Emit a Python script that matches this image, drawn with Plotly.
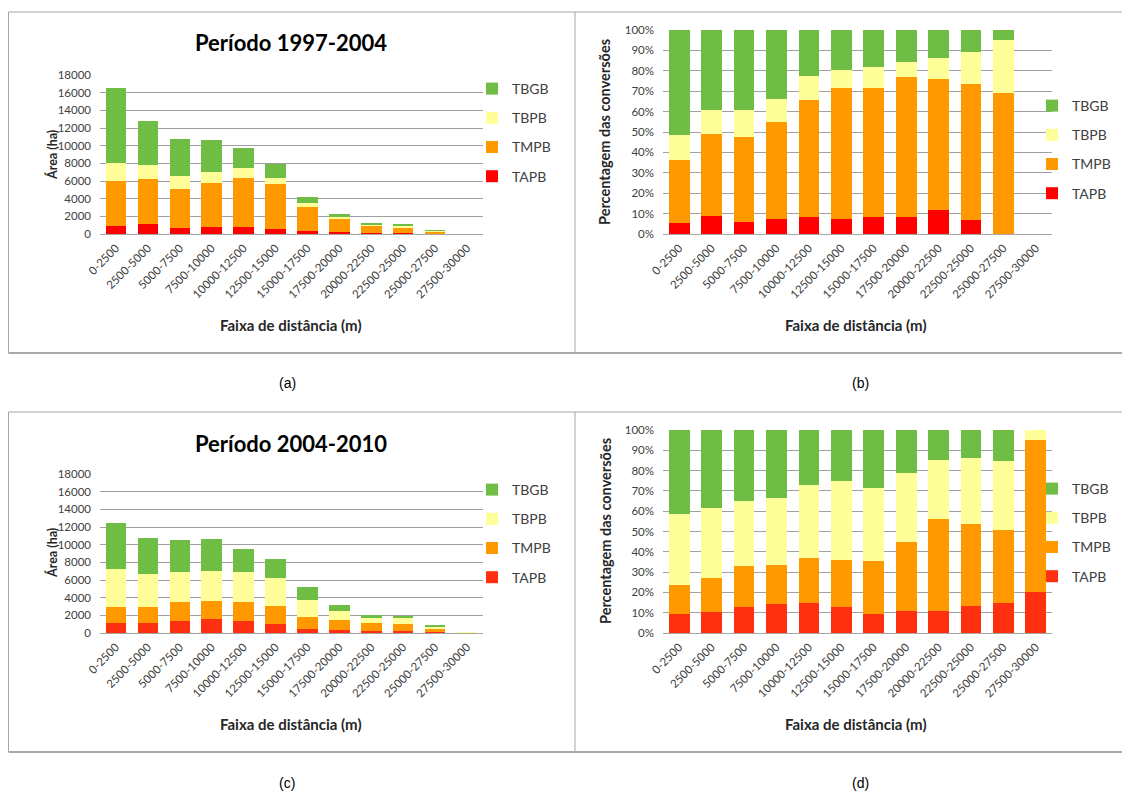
import numpy as np
import plotly.graph_objects as go

categories = ["0-2500", "2500-5000", "5000-7500", "7500-10000", "10000-12500", "12500-15000",
              "15000-17500", "17500-20000", "20000-22500", "22500-25000", "25000-27500", "27500-30000"]
series_names = ["TAPB", "TMPB", "TBPB", "TBGB"]

# Período 1997-2004 (ha)
p1_TAPB = [860, 1150, 655, 765, 795, 570, 345, 185, 140, 70, 0, 0]
p1_TMPB = [5150, 5120, 4440, 5065, 5555, 5090, 2675, 1550, 770, 678, 311, 0]
p1_TBPB = [2030, 1510, 1450, 1180, 1140, 685, 440, 175, 125, 162, 116, 0]
p1_TBGB = [8460, 4970, 4185, 3610, 2190, 1555, 760, 350, 165, 110, 23, 0]

# Período 2004-2010 (ha)
p2_TAPB = [1180, 1120, 1370, 1530, 1380, 1070, 490, 350, 220, 257, 126, 8]
p2_TMPB = [1735, 1790, 2100, 2040, 2110, 1940, 1350, 1090, 905, 788, 305, 30]
p2_TBPB = [4330, 3730, 3380, 3480, 3410, 3230, 1850, 1090, 575, 632, 289, 2]
p2_TBGB = [5155, 4100, 3660, 3580, 2590, 2120, 1490, 670, 300, 273, 130, 0]

y_ticks_area = [0, 2000, 4000, 6000, 8000, 10000, 12000, 14000, 16000, 18000]
y_ticks_pct = [0, 10, 20, 30, 40, 50, 60, 70, 80, 90, 100]
y_ticktext_pct = [f"{v}%" for v in y_ticks_pct]
y_ticktext_area = [str(v) for v in y_ticks_area]

colors_1 = {"TAPB": "#ff0000", "TMPB": "#ff9900", "TBPB": "#ffff99", "TBGB": "#70bd45"}
colors_2 = {"TAPB": "#ff3010", "TMPB": "#ff9900", "TBPB": "#ffff99", "TBGB": "#70bd45"}
legend_rank = {"TBGB": 1, "TBPB": 2, "TMPB": 3, "TAPB": 4}

# page body has an 8px margin: figure is sized to fit the window
OFF = 8
W, H = 1130 - OFF, 794 - OFF
def px(x): return (x - OFF) / W
def py(y): return 1 - (y - OFF) / H

FONT = "Lato"
TICK = dict(family=FONT, size=11.5, color="#404040")

def percent(series_list):
    arr = np.array(series_list, dtype=float)
    tot = arr.sum(axis=0)
    with np.errstate(invalid="ignore", divide="ignore"):
        pct = np.where(tot > 0, arr / tot * 100, np.nan)
    return pct

fig = go.Figure()

panels = [
    ("x", "y", "legend", [p1_TAPB, p1_TMPB, p1_TBPB, p1_TBGB], False, colors_1),
    ("x2", "y2", "legend2", [p1_TAPB, p1_TMPB, p1_TBPB, p1_TBGB], True, colors_1),
    ("x3", "y3", "legend3", [p2_TAPB, p2_TMPB, p2_TBPB, p2_TBGB], False, colors_2),
    ("x4", "y4", "legend4", [p2_TAPB, p2_TMPB, p2_TBPB, p2_TBGB], True, colors_2),
]

for xa, ya, lg, data, is_pct, cols in panels:
    vals = percent(data) if is_pct else np.array(data, dtype=float)
    for i, name in enumerate(series_names):
        fig.add_trace(go.Bar(
            x=categories, y=vals[i], name=name, xaxis=xa, yaxis=ya, legend=lg,
            legendgroup=lg + name, legendrank=legend_rank[name],
            marker=dict(color=cols[name], line=dict(width=0)),
        ))

xdom_l = [px(100), px(483)]
xdom_r = [px(663), px(1052)]

xcommon = dict(tickangle=-45, tickfont=TICK, showgrid=False, showline=True,
               linecolor="#a6a6a6", linewidth=1, ticks="", categoryorder="array",
               categoryarray=categories, automargin=False, ticklabelstandoff=2)
ycommon = dict(showgrid=True, gridcolor="#a0a0a0", gridwidth=1, zeroline=False,
               showline=False, tickfont=TICK, ticks="", automargin=False, tickmode="array",
               ticklabelstandoff=8)

fig.update_layout(
    width=W, height=H, margin=dict(l=0, r=0, t=0, b=0),
    paper_bgcolor="white", plot_bgcolor="white",
    barmode="stack", bargap=0.36,
    showlegend=True,
    xaxis=dict(domain=xdom_l, anchor="y", **xcommon),
    yaxis=dict(domain=[py(234), py(75)], anchor="x", range=[0, 18000],
               tickvals=y_ticks_area, ticktext=y_ticktext_area, **ycommon),
    xaxis2=dict(domain=xdom_r, anchor="y2", **xcommon),
    yaxis2=dict(domain=[py(234), py(30)], anchor="x2", range=[0, 100],
                tickvals=y_ticks_pct, ticktext=y_ticktext_pct, **ycommon),
    xaxis3=dict(domain=xdom_l, anchor="y3", **xcommon),
    yaxis3=dict(domain=[py(633), py(474)], anchor="x3", range=[0, 18000],
                tickvals=y_ticks_area, ticktext=y_ticktext_area, **ycommon),
    xaxis4=dict(domain=xdom_r, anchor="y4", **xcommon),
    yaxis4=dict(domain=[py(633), py(430)], anchor="x4", range=[0, 100],
                tickvals=y_ticks_pct, ticktext=y_ticktext_pct, **ycommon),
)

leg_common = dict(xanchor="left", yanchor="top", traceorder="grouped",
                  tracegroupgap=8, font=dict(family=FONT, size=14, color="#404040"),
                  bgcolor="rgba(0,0,0,0)", itemclick=False)
fig.update_layout(
    legend=dict(x=px(472), y=py(73), **leg_common),
    legend2=dict(x=px(1032), y=py(90), **leg_common),
    legend3=dict(x=px(472), y=py(474), **leg_common),
    legend4=dict(x=px(1032), y=py(473), **leg_common),
)

ann = []
def text(x, y, t, size=12, bold=True, angle=0, family=FONT, color="#262626"):
    ann.append(dict(x=px(x), y=py(y), xref="paper", yref="paper", text=(f"<b>{t}</b>" if bold else t),
                    showarrow=False, textangle=angle, xanchor="center", yanchor="middle",
                    font=dict(family=family, size=size, color=color)))

text(291, 43, "Período 1997-2004", size=22, color="#000000")
text(291, 443, "Período 2004-2010", size=22, color="#000000")
text(52, 155, "Área (ha)", size=12.5, angle=-90)
text(52, 553, "Área (ha)", size=12.5, angle=-90)
text(605, 132, "Percentagem das conversões", size=14.5, angle=-90)
text(605, 531, "Percentagem das conversões", size=14.5, angle=-90)
text(291, 325, "Faixa de distância (m)", size=15)
text(856, 325, "Faixa de distância (m)", size=15)
text(291, 724, "Faixa de distância (m)", size=15)
text(856, 724, "Faixa de distância (m)", size=15)
text(287, 383, "(a)", size=14, bold=False, family="Liberation Sans", color="#000000")
text(860, 383, "(b)", size=14, bold=False, family="Liberation Sans", color="#000000")
text(287, 783, "(c)", size=14, bold=False, family="Liberation Sans", color="#000000")
text(860, 783, "(d)", size=14, bold=False, family="Liberation Sans", color="#000000")
fig.update_layout(annotations=ann)

shapes = []
def line(x0, y0, x1, y1, color="#a6a6a6", w=1):
    shapes.append(dict(type="line", xref="paper", yref="paper", x0=px(x0), y0=py(y0),
                       x1=px(x1), y1=py(y1), line=dict(color=color, width=w)))
for top, bot in [(12, 353), (412, 752)]:
    line(8.5, top, 1130, top)
    line(8.5, bot, 1130, bot, color="#8c8c8c", w=1.5)
    line(8.5, top, 8.5, bot)
    line(575, top, 575, bot)
fig.update_layout(shapes=shapes)

fig.write_html("out.html")
